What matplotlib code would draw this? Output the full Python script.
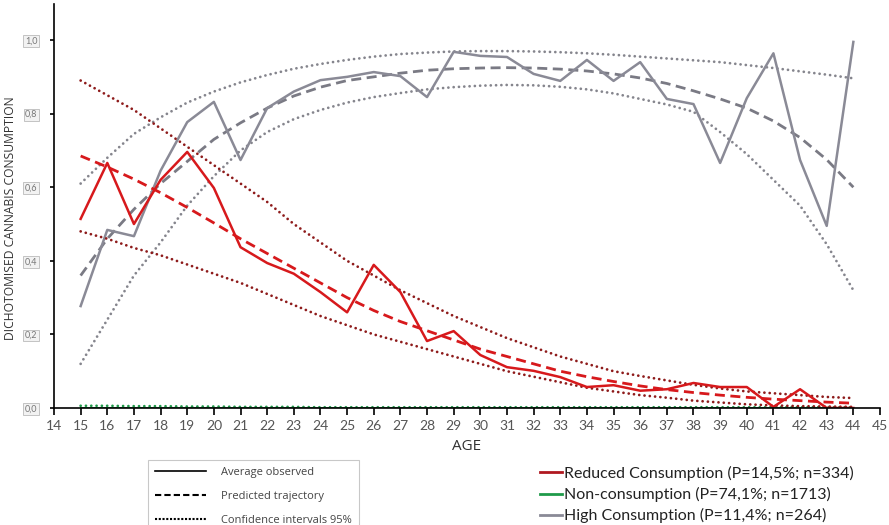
import matplotlib

matplotlib.use("Agg")

import matplotlib.pyplot as plt
from matplotlib.lines import Line2D


ages = list(range(15, 45))

# Reduced consumption
reduced_obs = [0.514, 0.666, 0.50, 0.62, 0.696, 0.598, 0.437, 0.394, 0.365, 0.315,
               0.26, 0.389, 0.315, 0.182, 0.209, 0.144, 0.111, 0.101, 0.084, 0.057,
               0.062, 0.047, 0.051, 0.068, 0.057, 0.057, 0.003, 0.051, 0.0, 0.0]
reduced_pred = [0.685, 0.655, 0.622, 0.585, 0.545, 0.503, 0.46, 0.42, 0.38, 0.34,
                0.30, 0.265, 0.235, 0.21, 0.185, 0.16, 0.14, 0.12, 0.10, 0.085,
                0.072, 0.06, 0.05, 0.042, 0.035, 0.029, 0.024, 0.02, 0.016, 0.013]
reduced_hi = [0.89, 0.85, 0.81, 0.76, 0.71, 0.66, 0.61, 0.56, 0.50, 0.45,
              0.40, 0.36, 0.32, 0.285, 0.25, 0.22, 0.19, 0.165, 0.14, 0.12,
              0.10, 0.087, 0.075, 0.063, 0.053, 0.045, 0.04, 0.035, 0.03, 0.027]
reduced_lo = [0.48, 0.46, 0.435, 0.415, 0.39, 0.365, 0.34, 0.31, 0.28, 0.25,
              0.225, 0.20, 0.18, 0.16, 0.14, 0.12, 0.10, 0.085, 0.07, 0.055,
              0.045, 0.035, 0.028, 0.02, 0.015, 0.01, 0.007, 0.005, 0.004, 0.003]

# Non-consumption
non_obs = [0.001] * 30
non_pred = [0.001] * 30
non_hi = [0.006, 0.006, 0.005, 0.005, 0.004, 0.004, 0.003, 0.003, 0.003, 0.002,
          0.002, 0.002, 0.002, 0.002, 0.002, 0.002, 0.002, 0.002, 0.002, 0.002,
          0.002, 0.002, 0.002, 0.002, 0.002, 0.002, 0.002, 0.002, 0.002, 0.002]

# High consumption
high_obs = [0.277, 0.484, 0.467, 0.645, 0.777, 0.832, 0.674, 0.815, 0.86, 0.891,
            0.90, 0.913, 0.902, 0.845, 0.968, 0.957, 0.954, 0.908, 0.889, 0.946,
            0.889, 0.940, 0.84, 0.826, 0.666, 0.842, 0.964, 0.674, 0.495, 0.995]
high_pred = [0.36, 0.46, 0.54, 0.61, 0.67, 0.73, 0.775, 0.815, 0.848, 0.872,
             0.89, 0.90, 0.91, 0.918, 0.922, 0.924, 0.925, 0.924, 0.921, 0.916,
             0.908, 0.897, 0.882, 0.862, 0.84, 0.815, 0.78, 0.735, 0.675, 0.60]
high_hi = [0.61, 0.68, 0.745, 0.79, 0.83, 0.86, 0.885, 0.905, 0.922, 0.935,
           0.946, 0.955, 0.962, 0.966, 0.969, 0.97, 0.97, 0.969, 0.967, 0.964,
           0.96, 0.955, 0.95, 0.945, 0.94, 0.932, 0.924, 0.915, 0.906, 0.896]
high_lo = [0.12, 0.24, 0.36, 0.45, 0.55, 0.63, 0.70, 0.75, 0.785, 0.81,
           0.83, 0.845, 0.856, 0.866, 0.872, 0.876, 0.878, 0.877, 0.873, 0.866,
           0.855, 0.84, 0.825, 0.805, 0.75, 0.69, 0.62, 0.55, 0.445, 0.32]

y_ticks = [0.0, 0.2, 0.4, 0.6, 0.8, 1.0]
y_tick_labels = ["0,0", "0,2", "0,4", "0,6", "0,8", "1,0"]
x_ticks = list(range(14, 46))

style_labels = ["Average observed", "Predicted trajectory", "Confidence intervals 95%"]
group_labels = ["Reduced Consumption (P=14,5%; n=334)",
                "Non-consumption (P=74,1%; n=1713)",
                "High Consumption (P=11,4%; n=264)"]

RED = "#d7191c"
RED_CI = "#8e1b1b"
GREEN = "#1f9a4a"
GRAY = "#8a8a96"
GRAY_PRED = "#7a7a84"
GRAY_CI = "#85858d"

dots = (0, (0.01, 1.9))
dashes = (0, (3.6, 2.0))


def dotted(x, y, color):
    ax.plot(x, y, color=color, lw=2.0, linestyle=dots, dash_capstyle="round")


fig = plt.figure(figsize=(8.89, 5.25), dpi=100)
ax = fig.add_axes([54 / 889, 117 / 525, 826 / 889, 404 / 525])

# green group (lies on the floor)
dotted(ages, non_hi, GREEN)
ax.plot(ages, non_pred, color=GREEN, lw=1.4, linestyle=dashes)
ax.plot(ages, non_obs, color=GREEN, lw=1.4)

# high consumption
dotted(ages, high_hi, GRAY_CI)
dotted(ages, high_lo, GRAY_CI)
ax.plot(ages, high_pred, color=GRAY_PRED, lw=2.0, linestyle=dashes)
ax.plot(ages, high_obs, color=GRAY, lw=1.8)

# reduced consumption
dotted(ages, reduced_hi, RED_CI)
dotted(ages, reduced_lo, RED_CI)
ax.plot(ages, reduced_pred, color=RED, lw=2.0, linestyle=dashes)
ax.plot(ages, reduced_obs, color=RED, lw=1.8)

ax.set_xlim(14, 45)
ax.set_ylim(0, 1.098)
ax.spines["top"].set_visible(False)
ax.spines["right"].set_visible(False)
ax.spines["left"].set_linewidth(1.2)
ax.spines["bottom"].set_linewidth(1.2)

ax.set_xticks(x_ticks)
ax.set_xticklabels([str(v) for v in x_ticks], fontsize=10, color="#555555", family="Lato")
ax.tick_params(axis="x", length=5, width=1.2, pad=4)
ax.set_yticks(y_ticks)
ax.set_yticklabels(y_tick_labels, fontsize=6.5, color="#777777", family="Lato")
ax.tick_params(axis="y", length=3, width=1.2, pad=9)
for lab in ax.get_yticklabels():
    lab.set_bbox(dict(facecolor="#f2f2f2", edgecolor="#bbbbbb", linewidth=0.6, pad=1.0))

ax.set_xlabel("AGE", fontsize=11, color="#333333", family="Open Sans", labelpad=5)
ax.set_ylabel("DICHOTOMISED CANNABIS CONSUMPTION", fontsize=8.7, color="#333333",
              family="Open Sans")
ax.yaxis.set_label_coords(-37 / 826, 0.47)

# legend for line styles
style_handles = [
    Line2D([0], [0], color="black", lw=1.2),
    Line2D([0], [0], color="black", lw=1.5, linestyle=(0, (3, 1.5))),
    Line2D([0], [0], color="black", lw=1.5, linestyle=(0, (1, 0.8))),
]
leg1 = fig.legend(style_handles, style_labels, loc="upper left",
                  bbox_to_anchor=(148 / 889, 1 - 460 / 525), frameon=True,
                  handlelength=4.6, handletextpad=1.4, labelspacing=1.2,
                  borderpad=0.6, borderaxespad=0, fancybox=False,
                  prop={"family": "Open Sans", "size": 8})
leg1.get_frame().set_edgecolor("#bbbbbb")
leg1.get_frame().set_linewidth(0.8)
for t in leg1.get_texts():
    t.set_color("#444444")

# legend for groups
group_handles = [
    Line2D([0], [0], color="#b01820", lw=2),
    Line2D([0], [0], color=GREEN, lw=2),
    Line2D([0], [0], color=GRAY, lw=2),
]
leg2 = fig.legend(group_handles, group_labels, loc="upper left",
                  bbox_to_anchor=(540 / 889, 1 - 466 / 525), frameon=False,
                  handlelength=1.4, handletextpad=0.1, labelspacing=0.38,
                  borderaxespad=0, borderpad=0,
                  prop={"family": "Lato", "size": 11.5})
for t in leg2.get_texts():
    t.set_color("#222222")

fig.savefig("out.png", dpi=100)
plt.close(fig)
